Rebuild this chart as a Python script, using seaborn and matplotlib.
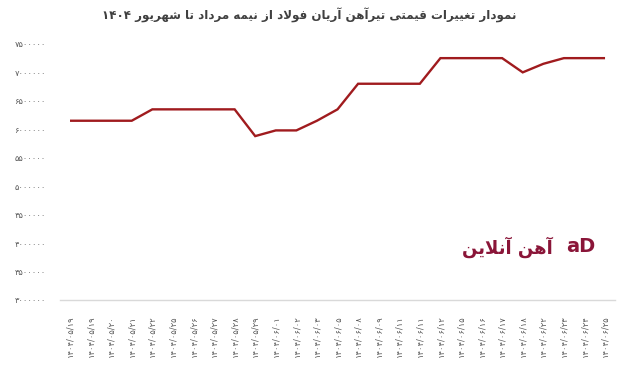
import re
import matplotlib
matplotlib.use("Agg")
import matplotlib.pyplot as plt
import seaborn as sns
import pandas as pd

# ---------------- data ----------------
dates = ["۱۴۰۴/۰۵/۱۹", "۱۴۰۴/۰۵/۱۹", "۱۴۰۴/۰۵/۲۰", "۱۴۰۴/۰۵/۲۱", "۱۴۰۴/۰۵/۲۲",
         "۱۴۰۴/۰۵/۲۵", "۱۴۰۴/۰۵/۲۶", "۱۴۰۴/۰۵/۲۷", "۱۴۰۴/۰۵/۲۸", "۱۴۰۴/۰۵/۲۹",
         "۱۴۰۴/۰۶/۰۱", "۱۴۰۴/۰۶/۰۲", "۱۴۰۴/۰۶/۰۳", "۱۴۰۴/۰۶/۰۵", "۱۴۰۴/۰۶/۰۸",
         "۱۴۰۴/۰۶/۰۹", "۱۴۰۴/۰۶/۱۱", "۱۴۰۴/۰۶/۱۱", "۱۴۰۴/۰۶/۱۲", "۱۴۰۴/۰۶/۱۵",
         "۱۴۰۴/۰۶/۱۶", "۱۴۰۴/۰۶/۱۷", "۱۴۰۴/۰۶/۱۸", "۱۴۰۴/۰۶/۲۲", "۱۴۰۴/۰۶/۲۳",
         "۱۴۰۴/۰۶/۲۴", "۱۴۰۴/۰۶/۲۵"]
prices = [6150000, 6150000, 6150000, 6150000, 6350000,
          6350000, 6350000, 6350000, 6350000, 5880000,
          5980000, 5980000, 6150000, 6350000, 6800000,
          6800000, 6800000, 6800000, 7250000, 7250000,
          7250000, 7250000, 7000000, 7150000, 7250000,
          7250000, 7250000]
y_ticks = [3000000, 3500000, 4000000, 4500000, 5000000,
           5500000, 6000000, 6500000, 7000000, 7500000]
y_tick_labels = ["۳۰۰۰۰۰۰", "۳۵۰۰۰۰۰", "۴۰۰۰۰۰۰", "۴۵۰۰۰۰۰", "۵۰۰۰۰۰۰",
                 "۵۵۰۰۰۰۰", "۶۰۰۰۰۰۰", "۶۵۰۰۰۰۰", "۷۰۰۰۰۰۰", "۷۵۰۰۰۰۰"]
title_text = "نمودار تغییرات قیمتی تیرآهن آریان فولاد از نیمه مرداد تا شهریور ۱۴۰۴"
logo_text = "آهن آنلاین"

# ------------- minimal Arabic/Persian shaping -------------
FORMS = {
    'ا': ('\uFE8D', '\uFE8E', None, None),
    'آ': ('\uFE81', '\uFE82', None, None),
    'ب': ('\uFE8F', '\uFE90', '\uFE91', '\uFE92'),
    'ت': ('\uFE95', '\uFE96', '\uFE97', '\uFE98'),
    'د': ('\uFEA9', '\uFEAA', None, None),
    'ر': ('\uFEAD', '\uFEAE', None, None),
    'ز': ('\uFEAF', '\uFEB0', None, None),
    'ش': ('\uFEB5', '\uFEB6', '\uFEB7', '\uFEB8'),
    'غ': ('\uFECD', '\uFECE', '\uFECF', '\uFED0'),
    'ف': ('\uFED1', '\uFED2', '\uFED3', '\uFED4'),
    'ق': ('\uFED5', '\uFED6', '\uFED7', '\uFED8'),
    'ل': ('\uFEDD', '\uFEDE', '\uFEDF', '\uFEE0'),
    'م': ('\uFEE1', '\uFEE2', '\uFEE3', '\uFEE4'),
    'ن': ('\uFEE5', '\uFEE6', '\uFEE7', '\uFEE8'),
    'ه': ('\uFEE9', '\uFEEA', '\uFEEB', '\uFEEC'),
    'و': ('\uFEED', '\uFEEE', None, None),
    'ی': ('\uFBFC', '\uFBFD', '\uFBFE', '\uFBFF'),
}
LAM_ALEF = {'ا': ('\uFEFB', '\uFEFC'), 'آ': ('\uFEF5', '\uFEF6')}


def shape(s):
    out = []
    i, n = 0, len(s)
    while i < n:
        c = s[i]
        if c not in FORMS:
            out.append(c)
            i += 1
            continue
        prev = s[i - 1] if i > 0 else ''
        jp = prev in FORMS and FORMS[prev][2] is not None
        if c == 'ل' and i + 1 < n and s[i + 1] in LAM_ALEF:
            lig = LAM_ALEF[s[i + 1]]
            out.append(lig[1] if jp else lig[0])
            i += 2
            continue
        nxt = s[i + 1] if i + 1 < n else ''
        jn = FORMS[c][2] is not None and nxt in FORMS
        iso, fin, ini, med = FORMS[c]
        if jp and jn:
            out.append(med)
        elif jp:
            out.append(fin)
        elif jn:
            out.append(ini)
        else:
            out.append(iso)
        i += 1
    vis = ''.join(out)[::-1]
    vis = re.sub(r'[\u06F0-\u06F9/]+', lambda m: m.group(0)[::-1], vis)
    return vis


# ---------------- plot ----------------
sns.set_theme(style="white")
plt.rcParams['font.family'] = ['DejaVu Sans']

df = pd.DataFrame({"idx": list(range(len(prices))), "price": prices})

fig = plt.figure(figsize=(6.24, 3.69), dpi=100)
ax = fig.add_axes([0.0957, 0.187, 0.8904, 0.694])

sns.lineplot(data=df, x="idx", y="price", ax=ax, color="#A01B1E",
             linewidth=1.7, solid_joinstyle="miter", solid_capstyle="butt")

ax.set_xlim(-0.5, len(prices) - 0.5)
ax.set_ylim(3000000, 7500000)
ax.set_yticks(y_ticks)
ax.set_yticklabels(y_tick_labels, fontsize=6, color="#595959")
ax.set_xticks(list(range(len(dates))))
ax.set_xticklabels(dates, rotation=90, fontsize=6, color="#595959")
ax.tick_params(axis='y', length=0, pad=10)
ax.tick_params(axis='x', length=0, pad=11)
ax.set_xlabel("")
ax.set_ylabel("")
for side in ["top", "right", "left"]:
    ax.spines[side].set_visible(False)
ax.spines["bottom"].set_color("#D9D9D9")
ax.spines["bottom"].set_linewidth(1.0)
ax.grid(False)

fig.text(0.495, 0.958, shape(title_text), ha="center", va="center",
         fontsize=8.6, fontweight="bold", color="#404040")

# logo
fig.text(0.886, 0.331, shape(logo_text), ha="right", va="center",
         fontsize=13, fontweight="bold", color="#8A1538")
fig.text(0.93, 0.331, "aD", ha="center", va="center",
         fontsize=14, fontweight="bold", color="#8A1538")

fig.savefig("out.png", dpi=100)
